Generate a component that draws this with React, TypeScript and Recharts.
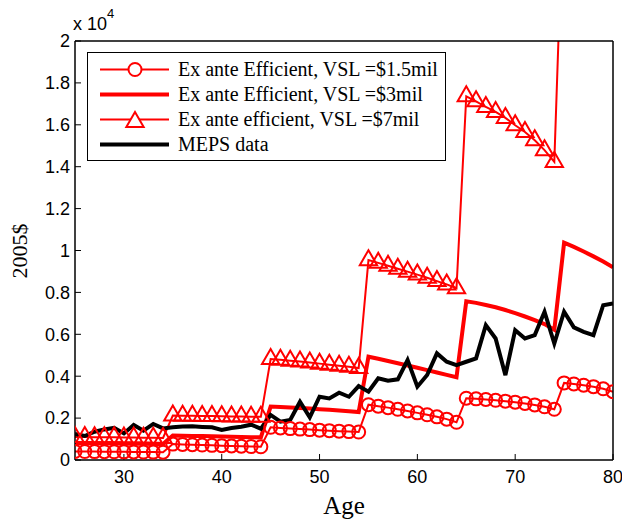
import { LineChart, Line, XAxis, YAxis, Legend } from "recharts";

const AGES = [
  25, 26, 27, 28, 29, 30, 31, 32, 33, 34, 35, 36, 37, 38, 39, 40, 41, 42, 43, 44,
  45, 46, 47, 48, 49, 50, 51, 52, 53, 54, 55, 56, 57, 58, 59, 60, 61, 62, 63, 64,
  65, 66, 67, 68, 69, 70, 71, 72, 73, 74, 75, 76, 77, 78, 79, 80,
];

// Ex ante efficient, VSL = $1.5mil
const VSL_15 = [
  410, 405, 400, 396, 392, 388, 384, 380, 376, 372,
  760, 745, 730, 715, 700, 686, 672, 658, 645, 632,
  1560, 1530, 1500, 1475, 1450, 1425, 1400, 1378, 1355, 1335,
  2640, 2570, 2500, 2420, 2340, 2250, 2160, 2060, 1950, 1800,
  2950, 2920, 2890, 2850, 2810, 2760, 2700, 2630, 2540, 2420,
  3680, 3630, 3570, 3500, 3400, 3260,
];

// Ex ante efficient, VSL = $3mil
const VSL_3 = [
  800, 796, 792, 788, 784, 780, 776, 772, 768, 764,
  1170, 1160, 1150, 1140, 1130, 1120, 1110, 1100, 1090, 1080,
  2550, 2530, 2505, 2480, 2455, 2425, 2395, 2360, 2325, 2290,
  4930, 4830, 4725, 4620, 4510, 4400, 4290, 4180, 4065, 3950,
  7580, 7500, 7400, 7290, 7160, 7010, 6850, 6680, 6490, 6220,
  10370, 10170, 9950, 9720, 9470, 9200,
];

// Ex ante efficient, VSL = $7mil
const VSL_7 = [
  1100, 1095, 1090, 1085, 1080, 1075, 1070, 1065, 1060, 1055,
  2120, 2115, 2110, 2100, 2095, 2090, 2080, 2075, 2065, 2060,
  4820, 4780, 4740, 4700, 4650, 4600, 4550, 4500, 4450, 4390,
  9540, 9410, 9270, 9130, 8990, 8850, 8700, 8540, 8380, 8200,
  17360, 17120, 16850, 16615, 16330, 15980, 15660, 15260, 14790, 14230,
  28000, 27500, 27000, 26400, 25700, 25000,
];

// MEPS data
const MEPS = [
  1240, 1145, 1350, 1460, 1540, 1270, 1670, 1400, 1720, 1510,
  1560, 1600, 1610, 1580, 1560, 1430, 1530, 1590, 1685, 1495,
  2150, 1830, 1910, 2780, 2040, 3020, 2940, 3210, 3020, 3530,
  3260, 3900, 3780, 3850, 4770, 3500, 4055, 5090, 4690, 4530,
  4690, 4850, 6440, 5800, 4050, 6200, 5800, 5960, 7075, 5560,
  7075, 6330, 6120, 5960, 7390, 7470,
];

const X_TICKS = [30, 40, 50, 60, 70, 80];
const Y_TICKS = [0, 2000, 4000, 6000, 8000, 10000, 12000, 14000, 16000, 18000, 20000];

const LEGEND_NAMES = [
  "Ex ante Efficient, VSL =$1.5mil",
  "Ex ante Efficient, VSL =$3mil",
  "Ex ante efficient, VSL =$7mil",
  "MEPS data",
];

const RED = "#ff0000";
const SANS = "'Liberation Sans', Arial, sans-serif";
const SERIF = "'Liberation Serif', 'Times New Roman', serif";

const data = AGES.map((age, i) => ({
  age,
  vsl15: VSL_15[i],
  vsl3: VSL_3[i],
  vsl7: VSL_7[i],
  meps: MEPS[i],
}));

const triPoints = (cx: number, cy: number, r: number) =>
  `${cx},${cy - r} ${cx + 0.866 * r},${cy + 0.5 * r} ${cx - 0.866 * r},${cy + 0.5 * r}`;

const TriangleDot = (props: any) => {
  const { cx, cy, index } = props;
  if (cx == null || cy == null) return null;
  return (
    <polygon
      key={`tri-${index}`}
      points={triPoints(cx, cy, 10)}
      fill="none"
      stroke={RED}
      strokeWidth={2}
    />
  );
};

const LegendBox = () => (
  <div
    style={{
      border: "1.5px solid #000",
      background: "#fff",
      width: 357,
      height: 103,
      paddingTop: 4,
      boxSizing: "content-box",
      fontFamily: SERIF,
      fontSize: 20,
      color: "#000",
    }}
  >
    {LEGEND_NAMES.map((name, i) => (
      <div key={name} style={{ display: "flex", alignItems: "center", height: 25 }}>
        <svg width={90} height={25} style={{ flex: "none" }}>
          <line
            x1={12}
            x2={81}
            y1={12.5}
            y2={12.5}
            stroke={i === 3 ? "#000" : RED}
            strokeWidth={i === 1 || i === 3 ? 4 : 2}
          />
          {i === 0 && <circle cx={47} cy={12.5} r={6.5} fill="#fff" stroke={RED} strokeWidth={2} />}
          {i === 2 && <polygon points={triPoints(47, 15, 10)} fill="#fff" stroke={RED} strokeWidth={2} />}
        </svg>
        <span style={{ whiteSpace: "nowrap", lineHeight: "25px" }}>{name}</span>
      </div>
    ))}
  </div>
);

const YLabel = () => (
  <g>
    <text
      x={27}
      y={251}
      transform="rotate(-90 27 251)"
      textAnchor="middle"
      fontFamily={SERIF}
      fontSize={22}
      fill="#000"
    >
      2005$
    </text>
    <text x={73} y={30} fontFamily={SANS} fontSize={18} fill="#000">
      x 10
      <tspan dy={-12} fontSize={13}>
        4
      </tspan>
    </text>
  </g>
);

export default function App() {
  return (
    <div>
      <style>{`body{margin:0}`}</style>
      <LineChart width={622} height={523} data={data} margin={{ top: 40, right: 8, bottom: 0, left: 0 }}>
        <XAxis
          xAxisId="b"
          dataKey="age"
          type="number"
          domain={[25, 80]}
          ticks={X_TICKS}
          allowDataOverflow
          height={63}
          tickSize={-6}
          tickMargin={16}
          axisLine={{ stroke: "#000", strokeWidth: 1.5 }}
          tickLine={{ stroke: "#000" }}
          tick={{ fill: "#000", fontSize: 18, fontFamily: SANS }}
          label={{ value: "Age", position: "insideBottom", offset: 9, fill: "#000", fontSize: 25, fontFamily: SERIF }}
        />
        <XAxis
          xAxisId="t"
          orientation="top"
          dataKey="age"
          type="number"
          domain={[25, 80]}
          ticks={X_TICKS}
          allowDataOverflow
          height={1}
          tickSize={-6}
          axisLine={{ stroke: "#000", strokeWidth: 1.5 }}
          tickLine={{ stroke: "#000" }}
          tick={false}
        />
        <YAxis
          yAxisId="l"
          type="number"
          domain={[0, 20000]}
          ticks={Y_TICKS}
          allowDataOverflow
          width={75}
          tickSize={-6}
          tickMargin={11}
          axisLine={{ stroke: "#000", strokeWidth: 1.5 }}
          tickLine={{ stroke: "#000" }}
          tick={{ fill: "#000", fontSize: 18, fontFamily: SANS }}
          tickFormatter={(v: number) => String(v / 10000)}
          label={{ content: () => <YLabel /> }}
        />
        <YAxis
          yAxisId="r"
          orientation="right"
          type="number"
          domain={[0, 20000]}
          ticks={Y_TICKS}
          allowDataOverflow
          width={1}
          tickSize={-6}
          axisLine={{ stroke: "#000", strokeWidth: 1.5 }}
          tickLine={{ stroke: "#000" }}
          tick={false}
        />
        <Legend
          layout="horizontal"
          verticalAlign="middle"
          align="center"
          content={() => <LegendBox />}
          wrapperStyle={{ left: 87, top: 52, width: "auto", height: "auto" }}
        />
        <Line
          xAxisId="b"
          yAxisId="l"
          dataKey="vsl15"
          name={LEGEND_NAMES[0]}
          stroke={RED}
          strokeWidth={2}
          dot={{ r: 6.5, stroke: RED, strokeWidth: 2, fill: "none" }}
          isAnimationActive={false}
        />
        <Line
          xAxisId="b"
          yAxisId="l"
          dataKey="vsl3"
          name={LEGEND_NAMES[1]}
          stroke={RED}
          strokeWidth={4}
          dot={false}
          isAnimationActive={false}
        />
        <Line
          xAxisId="b"
          yAxisId="l"
          dataKey="vsl7"
          name={LEGEND_NAMES[2]}
          stroke={RED}
          strokeWidth={2}
          dot={TriangleDot}
          isAnimationActive={false}
        />
        <Line
          xAxisId="b"
          yAxisId="l"
          dataKey="meps"
          name={LEGEND_NAMES[3]}
          stroke="#000"
          strokeWidth={4}
          dot={false}
          isAnimationActive={false}
        />
      </LineChart>
    </div>
  );
}
